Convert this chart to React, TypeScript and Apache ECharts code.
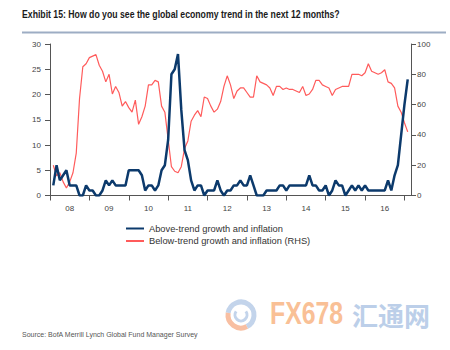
import React, { useEffect, useRef } from "react";
import * as echarts from "echarts";

// Monthly categories: Jan 2008 .. Mar 2017
const startYear = 2008;
const monthCount = 111;
const categories: string[] = Array.from({ length: monthCount }, (_, i) => {
  const y = startYear + Math.floor(i / 12);
  const m = (i % 12) + 1;
  return `${y}-${m < 10 ? "0" + m : m}`;
});

// Above-trend growth and inflation (LHS, %)
const aboveTrend: (number | null)[] = [
  // 2008
  null, 2, 6, 3, 4, 5, 2, 2, 2, 0, 0, 2,
  // 2009
  1, 1, 0, 0, 1, 3, 2, 3, 2, 2, 2, 2,
  // 2010
  5, 5, 5, 5, 4, 1, 2, 2, 1, 2, 5, 6,
  // 2011
  11, 24, 25, 28, 17, 9, 7, 3, 1, 2, 2, 0,
  // 2012
  1, 1, 1, 3, 1, 0, 1, 1, 2, 2, 3, 2,
  // 2013
  2, 4, 2, 0, 0, 0, 1, 1, 1, 1, 2, 2,
  // 2014
  1, 2, 2, 2, 2, 2, 2, 4, 2, 2, 1, 1,
  // 2015
  2, 0, 1, 3, 2, 2, 0, 1, 2, 1, 2, 1,
  // 2016
  2, 1, 1, 1, 1, 1, 1, 3, 1, 4, 6, 12,
  // 2017
  18, 23, null,
];

// Below-trend growth and inflation (RHS, %)
const belowTrend: (number | null)[] = [
  // 2008
  null, 20, 13, 15, 9, 5, 9, 15, 28, 64, 85, 87,
  // 2009
  91, 92, 93, 86, 82, 75, 80, 67, 72, 68, 59, 62,
  // 2010
  58, 55, 63, 47, 52, 59, 73, 73, 76, 75, 59, 55,
  // 2011
  37, 19, 16, 15, 19, 31, 36, 49, 53, 56, 52, 65,
  // 2012
  64, 59, 55, 57, 62, 72, 79, 73, 64, 69, 71, 71,
  // 2013
  68, 65, 65, 79, 75, 74, 73, 71, 66, 72, 72, 70,
  // 2014
  71, 70, 70, 69, 68, 72, 66, 67, 70, 76, 76, 73,
  // 2015
  72, 71, 66, 70, 71, 72, 72, 72, 80, 80, 80, 79,
  // 2016
  81, 87, 82, 81, 80, 81, 83, 75, 74, 71, 59, 55,
  // 2017
  48, 42, null,
];

const seriesNames = [
  "Above-trend growth and inflation",
  "Below-trend growth and inflation (RHS)",
];

const titleText =
  "Exhibit 15: How do you see the global economy trend in the next 12 months?";
const sourceText = "Source: BofA Merrill Lynch Global Fund Manager Survey";

const FONT = '"Liberation Sans", Arial, sans-serif';
const AXIS_COLOR = "#555";
const LABEL_COLOR = "#444";
const BLUE = "#0c3a6c";
const RED = "#ff5b5b";

export default function App() {
  const ref = useRef<HTMLDivElement>(null);

  useEffect(() => {
    if (!ref.current) return;
    const chart = echarts.init(ref.current, null, { renderer: "svg" });
    chart.setOption({
      animation: false,
      backgroundColor: "#ffffff",
      textStyle: { fontFamily: FONT },
      grid: { left: 50, right: 39, top: 44, bottom: 154.5 },
      legend: {
        orient: "vertical",
        left: 120,
        top: 219,
        itemWidth: 18,
        itemHeight: 6,
        itemGap: 3.5,
        data: seriesNames,
        itemStyle: { opacity: 0 },
        textStyle: { fontSize: 9.3, color: "#333", fontFamily: FONT },
      },
      xAxis: {
        type: "category",
        data: categories,
        boundaryGap: false,
        axisLine: { lineStyle: { color: AXIS_COLOR, width: 1 } },
        axisTick: {
          interval: (i: number) => i % 12 === 0,
          length: 5,
          lineStyle: { color: AXIS_COLOR },
        },
        axisLabel: {
          interval: (i: number) => i % 12 === 6 && i < 108,
          formatter: (v: string) => v.slice(2, 4),
          color: LABEL_COLOR,
          fontSize: 8,
          margin: 9,
          fontFamily: FONT,
        },
        splitLine: { show: false },
      },
      yAxis: [
        {
          type: "value",
          position: "left",
          min: 0,
          max: 30,
          interval: 5,
          axisLine: { show: true, lineStyle: { color: AXIS_COLOR } },
          axisTick: { show: true, length: 5, lineStyle: { color: AXIS_COLOR } },
          axisLabel: { color: LABEL_COLOR, fontSize: 8, margin: 9, fontFamily: FONT },
          splitLine: { show: false },
        },
        {
          type: "value",
          position: "right",
          min: 0,
          max: 100,
          interval: 20,
          axisLine: { show: true, lineStyle: { color: AXIS_COLOR } },
          axisTick: { show: true, length: 5, lineStyle: { color: AXIS_COLOR } },
          axisLabel: { color: LABEL_COLOR, fontSize: 8, margin: 6, fontFamily: FONT },
          splitLine: { show: false },
        },
      ],
      series: [
        {
          name: seriesNames[0],
          type: "line",
          yAxisIndex: 0,
          data: aboveTrend,
          symbol: "none",
          z: 3,
          lineStyle: { color: BLUE, width: 2.5 },
          itemStyle: { color: BLUE },
        },
        {
          name: seriesNames[1],
          type: "line",
          yAxisIndex: 1,
          data: belowTrend,
          symbol: "none",
          z: 2,
          lineStyle: { color: RED, width: 1.2 },
          itemStyle: { color: RED },
        },
      ],
      graphic: [
        {
          type: "text",
          x: 22,
          y: 15,
          scaleX: 0.87,
          style: {
            text: titleText,
            font: `bold 10px ${FONT}`,
            fill: "#1a1a1a",
            verticalAlign: "middle",
          },
        },
        {
          type: "rect",
          shape: { x: 22, y: 31.5, width: 424, height: 2 },
          style: { fill: "#9dadc4" },
        },
        {
          type: "text",
          x: 22,
          y: 334,
          style: {
            text: sourceText,
            font: `7px ${FONT}`,
            fill: "#555",
            verticalAlign: "middle",
          },
        },
        // watermark logo
        {
          type: "arc",
          shape: { cx: 241, cy: 315, r: 13, startAngle: -Math.PI * 0.95, endAngle: Math.PI * 0.35, clockwise: true },
          style: { stroke: "#c3d4eb", lineWidth: 5, fill: null },
        },
        {
          type: "arc",
          shape: { cx: 241, cy: 315, r: 13, startAngle: Math.PI * 0.35, endAngle: Math.PI * 1.05, clockwise: true },
          style: { stroke: "#f8bfa2", lineWidth: 5, fill: null },
        },
        {
          type: "arc",
          shape: { cx: 241, cy: 315, r: 6, startAngle: -Math.PI * 0.2, endAngle: Math.PI * 1.2, clockwise: true },
          style: { stroke: "#c3d4eb", lineWidth: 3, fill: null },
        },
        {
          type: "text",
          x: 270,
          y: 314,
          scaleX: 0.8,
          style: {
            text: "FX678",
            font: `bold 31px ${FONT}`,
            fill: "#f9c096",
            verticalAlign: "middle",
          },
        },
        {
          type: "text",
          x: 352,
          y: 314,
          style: {
            text: "汇通网",
            font: `bold 26px "Noto Sans CJK SC"`,
            fill: "#bccfe9",
            verticalAlign: "middle",
          },
        },
      ],
    });
    return () => chart.dispose();
  }, []);

  return (
    <div
      ref={ref}
      style={{ position: "fixed", left: 0, top: 0, width: 450, height: 350, background: "#fff" }}
    />
  );
}
